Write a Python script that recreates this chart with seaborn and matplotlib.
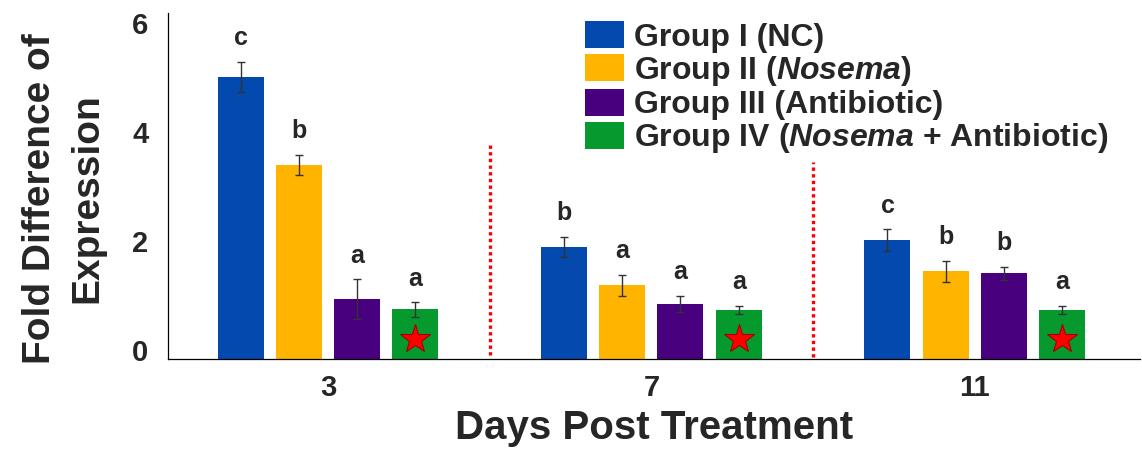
import numpy as np
import pandas as pd
import seaborn as sns
import matplotlib.pyplot as plt
from matplotlib.patches import Patch
from matplotlib.transforms import ScaledTranslation

sns.set_style('white')
plt.rcParams['font.family'] = ['Liberation Sans', 'DejaVu Sans']
plt.rcParams['font.weight'] = 'bold'
plt.rcParams['mathtext.fontset'] = 'custom'
plt.rcParams['mathtext.bfit'] = 'Liberation Sans:italic:bold'
plt.rcParams['mathtext.rm'] = 'Liberation Sans:bold'

# ============================================================
# data
# ============================================================
days = ['3', '7', '11']
groups = ['Group I (NC)', 'Group II (Nosema)', 'Group III (Antibiotic)',
          'Group IV (Nosema + Antibiotic)']
legend_labels = ['Group I (NC)', r'Group II ($\mathbfit{Nosema}$)',
                 'Group III (Antibiotic)',
                 r'Group IV ($\mathbfit{Nosema}$ + Antibiotic)']
colors = ['#0349AE', '#FFB400', '#48007F', '#069A2E']

g1_mean = [5.18, 2.06, 2.18]
g2_mean = [3.56, 1.35, 1.61]
g3_mean = [1.10, 1.01, 1.57]
g4_mean = [0.91, 0.90, 0.90]

g1_err = [0.28, 0.18, 0.20]
g2_err = [0.19, 0.20, 0.19]
g3_err = [0.36, 0.155, 0.125]
g4_err = [0.13, 0.08, 0.07]

g1_letters = ['c', 'b', 'c']
g2_letters = ['b', 'a', 'b']
g3_letters = ['a', 'a', 'b']
g4_letters = ['a', 'a', 'a']

star_y = 0.37
sep_x = [0.5, 1.5]
sep_top = [3.94, 3.61]
sep_bottom = [0.07, 0.04]

means = [g1_mean, g2_mean, g3_mean, g4_mean]
errs = [g1_err, g2_err, g3_err, g4_err]
letters = [g1_letters, g2_letters, g3_letters, g4_letters]

df = pd.DataFrame({
    'day': days * 4,
    'group': np.repeat(groups, 3),
    'value': g1_mean + g2_mean + g3_mean + g4_mean,
})

# ============================================================
# plot
# ============================================================
fig = plt.figure(figsize=(11.42, 4.51), dpi=100)
ax = fig.add_axes([0.147, 0.204, 0.851, 0.767])

sns.barplot(data=df, x='day', y='value', hue='group', order=days,
            hue_order=groups, palette=colors, saturation=1,
            width=0.72, gap=0.21, errorbar=None, legend=False,
            linewidth=0, ax=ax)

bar_containers = list(ax.containers)
for i, cont in enumerate(bar_containers):
    xs = [p.get_x() + p.get_width() / 2 for p in cont.patches]
    ax.errorbar(xs, means[i], yerr=errs[i], fmt='none', ecolor='#333333',
                elinewidth=1, capsize=3, capthick=1, zorder=3)
    for x, m, e, lab in zip(xs, means[i], errs[i], letters[i]):
        ax.annotate(lab, (x, m + e), xytext=(0, 12), textcoords='offset points',
                    ha='center', va='baseline', fontsize=18, fontweight='bold')
    if i == 3:
        ax.plot(xs, [star_y] * len(xs), linestyle='none', marker='*',
                markersize=22, markerfacecolor='#FF0000',
                markeredgecolor='#A00000', markeredgewidth=0.8, zorder=4)

for x, t, b in zip(sep_x, sep_top, sep_bottom):
    ax.plot([x, x], [b, t], color='#FF0000', linestyle=(0, (1, 1)),
            linewidth=2.4, zorder=2)

ax.set_xlim(-0.495, 2.51)
ax.set_ylim(0, 6.35)
ax.set_yticks([0, 2, 4, 6])
sns.despine(ax=ax)
for s in ['left', 'bottom']:
    ax.spines[s].set_color('black')
    ax.spines[s].set_linewidth(0.9)

ax.tick_params(axis='y', length=0, pad=14, labelsize=21)
ax.tick_params(axis='x', length=0, pad=11, labelsize=21)
for lab in ax.get_yticklabels():
    lab.set_transform(lab.get_transform() +
                      ScaledTranslation(0, 0.09, fig.dpi_scale_trans))
for lab in ax.get_xticklabels() + ax.get_yticklabels():
    lab.set_fontweight('bold')

ax.set_xlabel('Days Post Treatment', fontsize=29, fontweight='bold', labelpad=5)
ax.set_ylabel('Fold Difference of\nExpression', fontsize=28,
              fontweight='bold', linespacing=1.4)
ax.yaxis.set_label_coords(-0.064, 0.465)

handles = [Patch(facecolor=c, edgecolor='none') for c in colors]
ax.legend(handles, legend_labels, loc='upper left',
          bbox_to_anchor=(585 / 1142, 1 - 21 / 451),
          bbox_transform=fig.transFigure, frameon=False, fontsize=23,
          handlelength=1.22, handleheight=0.94, handletextpad=0.3,
          labelspacing=0.03, borderpad=0, borderaxespad=0)

plt.savefig('out.png', dpi=100)
